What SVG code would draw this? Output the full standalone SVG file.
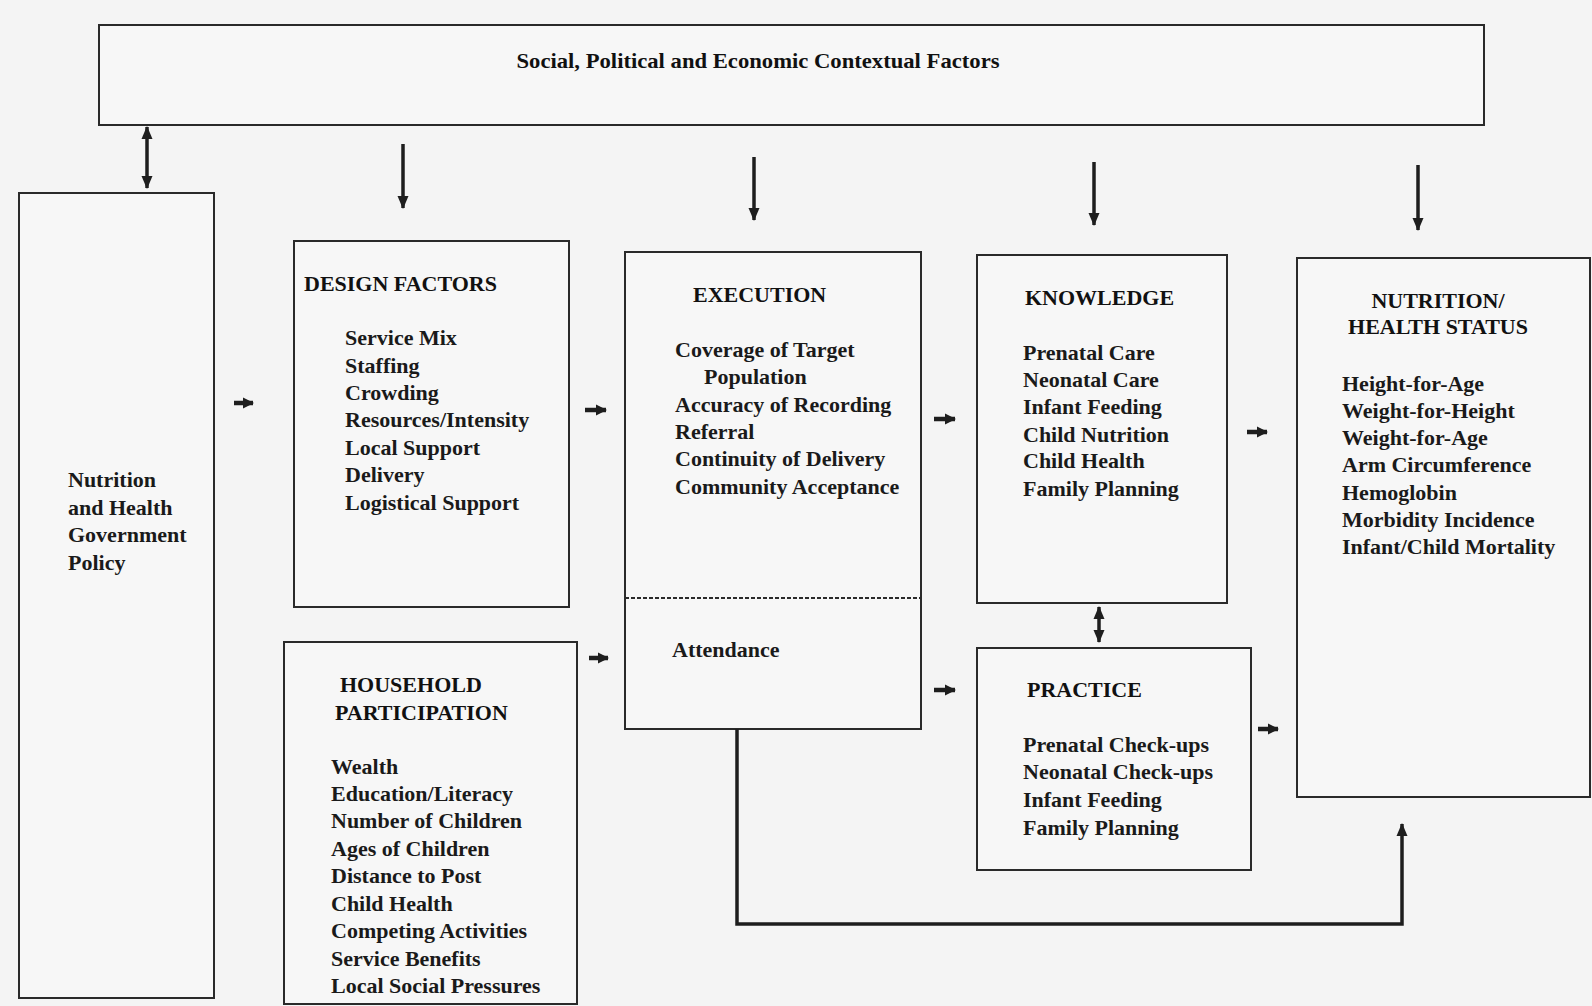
<svg xmlns="http://www.w3.org/2000/svg" width="1592" height="1006" viewBox="0 0 1592 1006">
<style>
.bg{fill:#f4f4f4}
.box{fill:#f7f7f7;stroke:#2a2a2a;stroke-width:2}
.t{font-family:"Liberation Serif","Times New Roman",serif;font-weight:bold;font-size:22px;fill:#1a1a1a}
.h{font-family:"Liberation Serif","Times New Roman",serif;font-weight:bold;font-size:22px;fill:#111}
.c{stroke:#1e1e1e;stroke-width:3.5;fill:none}
.s{stroke:#1e1e1e;stroke-width:4.5;fill:none}
.dash{stroke:#2a2a2a;stroke-width:2;stroke-dasharray:4 2;fill:none}
</style>
<defs>
<marker id="ah" markerUnits="userSpaceOnUse" markerWidth="14" markerHeight="14" refX="12" refY="7" orient="auto-start-reverse">
<path d="M0,1.5 L13,7 L0,12.5 Z" fill="#1e1e1e"/>
</marker>
<marker id="sh" markerUnits="userSpaceOnUse" markerWidth="12" markerHeight="12" refX="10" refY="6" orient="auto">
<path d="M0,0.5 L11,6 L0,11.5 Z" fill="#1e1e1e"/>
</marker>
</defs>
<rect class="bg" x="0" y="0" width="1592" height="1006"/>

<g id="context">
<rect class="box" x="99" y="25" width="1385" height="100"/>
<text class="h" x="758" y="68" text-anchor="middle" font-size="20" textLength="483" lengthAdjust="spacingAndGlyphs">Social, Political and Economic Contextual Factors</text>
</g>

<g id="policy">
<rect class="box" x="19" y="193" width="195" height="805"/>
<text class="t"><tspan x="68" y="487">Nutrition</tspan><tspan x="68" y="515">and Health</tspan><tspan x="68" y="542">Government</tspan><tspan x="68" y="570">Policy</tspan></text>
</g>

<g id="design">
<rect class="box" x="294" y="241" width="275" height="366"/>
<text class="h" x="304" y="291">DESIGN FACTORS</text>
<text class="t"><tspan x="345" y="345">Service Mix</tspan><tspan x="345" y="373">Staffing</tspan><tspan x="345" y="400">Crowding</tspan><tspan x="345" y="427">Resources/Intensity</tspan><tspan x="345" y="455">Local Support</tspan><tspan x="345" y="482">Delivery</tspan><tspan x="345" y="510">Logistical Support</tspan></text>
</g>

<g id="household">
<rect class="box" x="284" y="642" width="293" height="362"/>
<text class="h"><tspan x="340" y="692">HOUSEHOLD</tspan><tspan x="335" y="720">PARTICIPATION</tspan></text>
<text class="t"><tspan x="331" y="774">Wealth</tspan><tspan x="331" y="801">Education/Literacy</tspan><tspan x="331" y="828">Number of Children</tspan><tspan x="331" y="856">Ages of Children</tspan><tspan x="331" y="883">Distance to Post</tspan><tspan x="331" y="911">Child Health</tspan><tspan x="331" y="938">Competing Activities</tspan><tspan x="331" y="966">Service Benefits</tspan><tspan x="331" y="993">Local Social Pressures</tspan></text>
</g>

<g id="execution">
<rect class="box" x="625" y="252" width="296" height="477"/>
<line class="dash" x1="625" y1="598" x2="921" y2="598"/>
<text class="h" x="693" y="302">EXECUTION</text>
<text class="t"><tspan x="675" y="357">Coverage of Target</tspan><tspan x="704" y="384">Population</tspan><tspan x="675" y="412">Accuracy of Recording</tspan><tspan x="675" y="439">Referral</tspan><tspan x="675" y="466">Continuity of Delivery</tspan><tspan x="675" y="494">Community Acceptance</tspan></text>
<text class="t" x="672" y="657">Attendance</text>
</g>

<g id="knowledge">
<rect class="box" x="977" y="255" width="250" height="348"/>
<text class="h" x="1025" y="305">KNOWLEDGE</text>
<text class="t"><tspan x="1023" y="360">Prenatal Care</tspan><tspan x="1023" y="387">Neonatal Care</tspan><tspan x="1023" y="414">Infant Feeding</tspan><tspan x="1023" y="442">Child Nutrition</tspan><tspan x="1023" y="468">Child Health</tspan><tspan x="1023" y="496">Family Planning</tspan></text>
</g>

<g id="practice">
<rect class="box" x="977" y="648" width="274" height="222"/>
<text class="h" x="1027" y="697">PRACTICE</text>
<text class="t"><tspan x="1023" y="752">Prenatal Check-ups</tspan><tspan x="1023" y="779">Neonatal Check-ups</tspan><tspan x="1023" y="807">Infant Feeding</tspan><tspan x="1023" y="835">Family Planning</tspan></text>
</g>

<g id="status">
<rect class="box" x="1297" y="258" width="293" height="539"/>
<text class="h" text-anchor="middle"><tspan x="1438" y="308">NUTRITION/</tspan><tspan x="1438" y="334">HEALTH STATUS</tspan></text>
<text class="t"><tspan x="1342" y="391">Height-for-Age</tspan><tspan x="1342" y="418">Weight-for-Height</tspan><tspan x="1342" y="445">Weight-for-Age</tspan><tspan x="1342" y="472">Arm Circumference</tspan><tspan x="1342" y="500">Hemoglobin</tspan><tspan x="1342" y="527">Morbidity Incidence</tspan><tspan x="1342" y="554">Infant/Child Mortality</tspan></text>
</g>

<g id="connectors">
<line class="c" x1="147" y1="127" x2="147" y2="188" marker-start="url(#ah)" marker-end="url(#ah)"/>
<line class="c" x1="403" y1="144" x2="403" y2="208" marker-end="url(#ah)"/>
<line class="c" x1="754" y1="157" x2="754" y2="220" marker-end="url(#ah)"/>
<line class="c" x1="1094" y1="162" x2="1094" y2="225" marker-end="url(#ah)"/>
<line class="c" x1="1418" y1="165" x2="1418" y2="230" marker-end="url(#ah)"/>
<line class="c" x1="1099" y1="607" x2="1099" y2="642" marker-start="url(#ah)" marker-end="url(#ah)"/>
<line class="s" x1="234" y1="403" x2="253" y2="403" marker-end="url(#sh)"/>
<line class="s" x1="585" y1="410" x2="606" y2="410" marker-end="url(#sh)"/>
<line class="s" x1="589" y1="658" x2="608" y2="658" marker-end="url(#sh)"/>
<line class="s" x1="934" y1="419" x2="955" y2="419" marker-end="url(#sh)"/>
<line class="s" x1="934" y1="690" x2="955" y2="690" marker-end="url(#sh)"/>
<line class="s" x1="1247" y1="432" x2="1267" y2="432" marker-end="url(#sh)"/>
<line class="s" x1="1258" y1="729" x2="1278" y2="729" marker-end="url(#sh)"/>
<path class="c" d="M737,729 L737,924 L1402,924 L1402,824" marker-end="url(#ah)"/>
</g>
</svg>
